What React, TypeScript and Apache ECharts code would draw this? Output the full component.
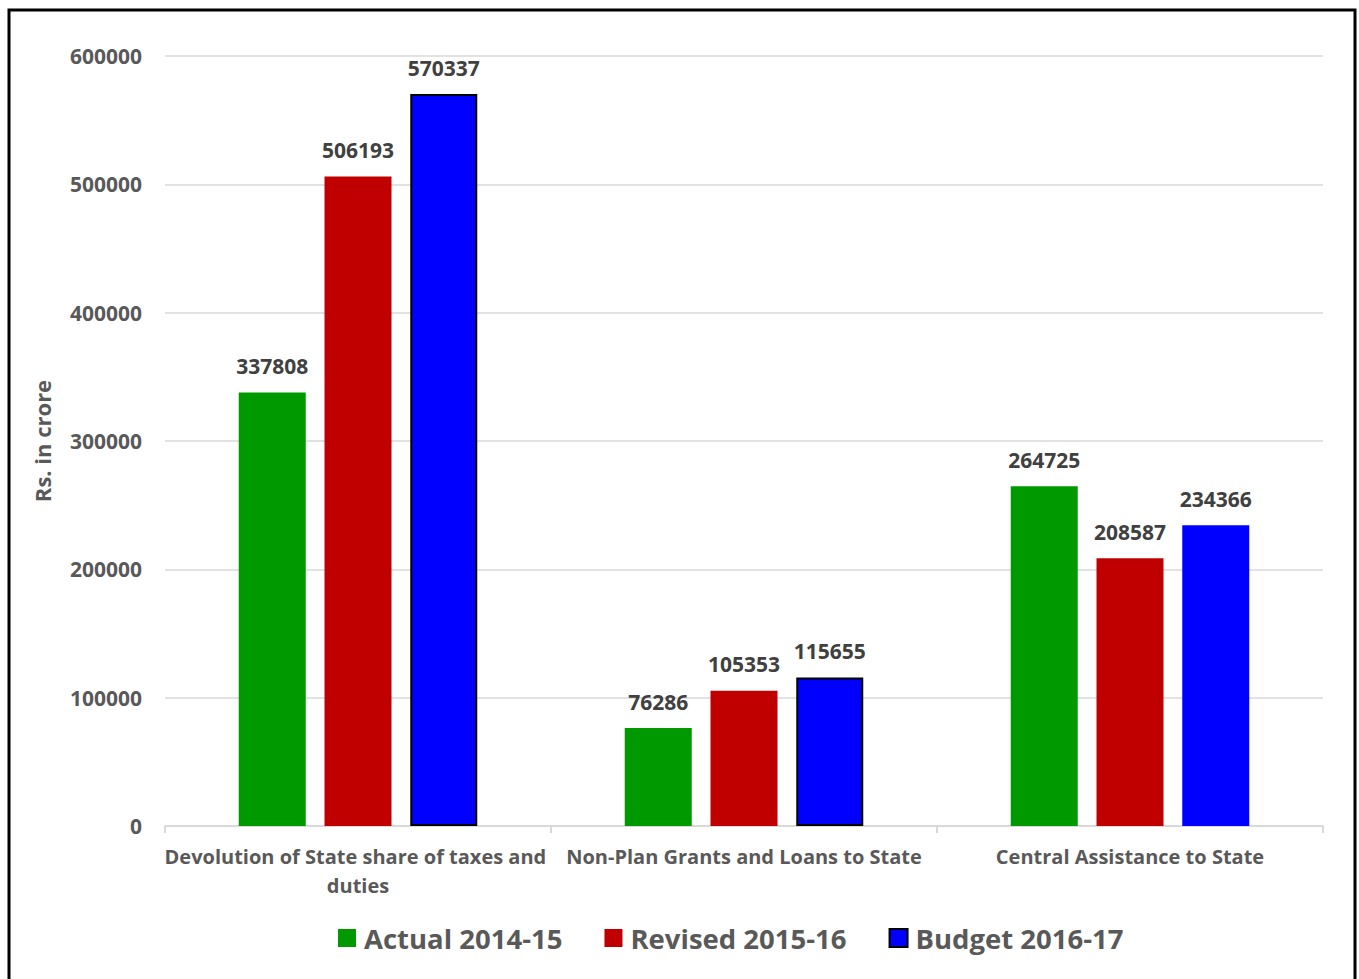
import React, { useEffect, useRef } from "react";
import * as echarts from "echarts";

const categories = [
  "Devolution of State share of taxes and duties",
  "Non-Plan Grants and Loans to State",
  "Central Assistance to State",
];
const seriesNames = ["Actual 2014-15", "Revised 2015-16", "Budget 2016-17"];
const actual = [337808, 76286, 264725];
const revised = [506193, 105353, 208587];
const budget = [570337, 115655, 234366];
const budgetBordered = [true, true, false];
const colors = ["#009900", "#C00000", "#0000FF"];
const yTicks = [0, 100000, 200000, 300000, 400000, 500000, 600000];

const FONT = "Open Sans";

export default function App() {
  const ref = useRef<HTMLDivElement>(null);
  useEffect(() => {
    if (!ref.current) return;
    const chart = echarts.init(ref.current, null, { renderer: "svg" });
    const label = {
      show: true,
      position: "top",
      distance: 16,
      color: "#404040",
      fontFamily: FONT,
      fontWeight: "bold",
      fontSize: 21,
    };
    chart.setOption({
      animation: false,
      backgroundColor: "#ffffff",
      textStyle: { fontFamily: FONT },
      graphic: [
        {
          type: "rect",
          shape: { x: 9, y: 10, width: 1346, height: 975 },
          style: { fill: "none", stroke: "#000000", lineWidth: 3 },
          silent: true,
        },
      ],
      grid: { left: 165, right: 36, top: 56, bottom: 153, containLabel: false },
      legend: {
        bottom: 22,
        left: 333,
        icon: "rect",
        itemWidth: 18,
        itemHeight: 18,
        itemGap: 42,
        textStyle: {
          color: "#595959",
          fontFamily: FONT,
          fontWeight: "bold",
          fontSize: 27.5,
          padding: [0, 0, 0, 3],
        },
        data: [
          { name: seriesNames[0], itemStyle: { color: colors[0] } },
          { name: seriesNames[1], itemStyle: { color: colors[1] } },
          {
            name: seriesNames[2],
            itemStyle: { color: colors[2], borderColor: "#000", borderWidth: 2 },
          },
        ],
      },
      xAxis: {
        type: "category",
        data: categories,
        axisLine: { lineStyle: { color: "#d9d9d9", width: 2 } },
        axisTick: { show: true, length: 7, lineStyle: { color: "#d9d9d9", width: 2 } },
        axisLabel: {
          color: "#595959",
          fontFamily: FONT,
          fontWeight: "bold",
          fontSize: 20,
          margin: 16,
          lineHeight: 29,
          width: 388,
          overflow: "break",
          interval: 0,
        },
      },
      yAxis: {
        type: "value",
        min: 0,
        max: 600000,
        interval: 100000,
        name: "Rs. in crore",
        nameLocation: "middle",
        nameGap: 112,
        nameTextStyle: {
          color: "#595959",
          fontFamily: FONT,
          fontWeight: "bold",
          fontSize: 22,
        },
        axisLine: { show: false },
        axisTick: { show: false },
        splitLine: { lineStyle: { color: "#d9d9d9", width: 1.5 } },
        axisLabel: {
          color: "#595959",
          fontFamily: FONT,
          fontWeight: "bold",
          fontSize: 21,
          margin: 23,
          formatter: (v: number) => (yTicks.includes(v) ? String(v) : ""),
        },
      },
      series: [
        {
          name: seriesNames[0],
          type: "bar",
          data: actual,
          barWidth: 67,
          barGap: "28%",
          itemStyle: { color: colors[0] },
          label,
        },
        {
          name: seriesNames[1],
          type: "bar",
          data: revised,
          barWidth: 67,
          barGap: "28%",
          itemStyle: { color: colors[1] },
          label,
        },
        {
          name: seriesNames[2],
          type: "bar",
          data: budget.map((v, i) => ({
            value: v,
            itemStyle: budgetBordered[i]
              ? { color: colors[2], borderColor: "#000", borderWidth: 2 }
              : { color: colors[2] },
          })),
          barWidth: 67,
          barGap: "28%",
          itemStyle: { color: colors[2] },
          label,
        },
      ],
    });
    return () => chart.dispose();
  }, []);
  return (
    <div
      ref={ref}
      style={{ position: "absolute", left: 0, top: 0, width: 1359, height: 979 }}
    />
  );
}
